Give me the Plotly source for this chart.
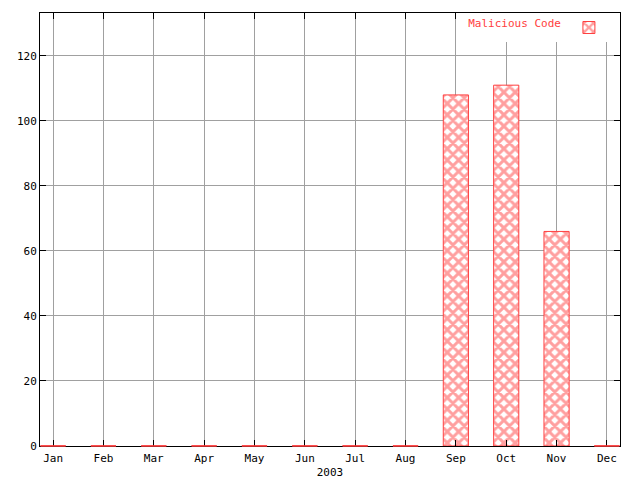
import plotly.graph_objects as go

months = ["Jan", "Feb", "Mar", "Apr", "May", "Jun", "Jul", "Aug", "Sep", "Oct", "Nov", "Dec"]
malicious_code = [0, 0, 0, 0, 0, 0, 0, 0, 108, 111, 66, 0]
series_name = "Malicious Code"
x_title = "2003"
y_ticks = [0, 20, 40, 60, 80, 100, 120]

RED = "#ff4040"
FONT = dict(family="DejaVu Sans Mono", size=11, color="black")
BAR_W = 0.5
Y_MAX = 133.2

fig = go.Figure()
fig.add_trace(go.Bar(
    x=list(range(len(months))), y=malicious_code, name="",
    width=BAR_W,
    marker=dict(color="white", line=dict(color=RED, width=1),
                pattern=dict(shape="x", fgcolor=RED, bgcolor="white", size=8, solidity=0.6)),
    showlegend=True,
))

# zero-height bars are drawn as red segments on the baseline
for i, v in enumerate(malicious_code):
    if v == 0:
        fig.add_shape(type="line", xref="x", yref="paper", x0=i - BAR_W / 2, x1=i + BAR_W / 2,
                      y0=v / Y_MAX, y1=v / Y_MAX, line=dict(color=RED, width=1.5), layer="above")

fig.update_layout(
    width=640, height=480,
    margin=dict(l=40, r=20, t=13, b=34, autoexpand=False),
    paper_bgcolor="white", plot_bgcolor="white",
    font=FONT,
    bargap=0.5,
    legend=dict(x=0.99, y=1.0, xanchor="right", yanchor="top",
                bgcolor="white", borderwidth=0,
                title=dict(text=series_name, side="left", font=dict(color=RED, size=11, family="DejaVu Sans Mono")),
                font=dict(color=RED, size=11), itemwidth=30, tracegroupgap=0),
)
fig.update_xaxes(
    range=[-0.26, 11.26], tickmode="array", tickvals=list(range(len(months))), ticktext=months,
    showgrid=True, gridcolor="#a0a0a0", gridwidth=1,
    ticks="inside", ticklen=6, tickcolor="black", mirror="allticks",
    showline=True, linecolor="black", linewidth=1, zeroline=False, automargin=False,
    ticklabelstandoff=2,
    title=dict(text=x_title, standoff=4, font=FONT),
)
fig.update_yaxes(
    range=[0, Y_MAX], tickmode="array", tickvals=y_ticks,
    showgrid=True, gridcolor="#a0a0a0", gridwidth=1,
    ticks="inside", ticklen=6, tickcolor="black", mirror="allticks",
    showline=True, linecolor="black", linewidth=1, zeroline=False, automargin=False,
)

fig.write_html("out.html", config={"displayModeBar": False},
               post_script="document.body.style.margin='0';")
